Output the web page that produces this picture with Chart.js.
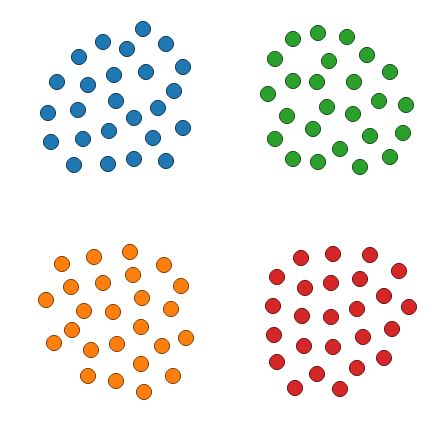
<!DOCTYPE html>
<html><head><meta charset="utf-8">
<script src="https://cdn.jsdelivr.net/npm/chart.js@4.4.1/dist/chart.umd.min.js"></script>
<style>html,body{margin:0;padding:0;background:#fff;}#wrap{width:448px;height:432px;}</style>
</head><body><div id="wrap"><canvas id="c" width="448" height="432"></canvas></div>
<script>
// Values in a 0..448 (x) by 0..432 (y, upward) data space
const blueX = [143,103,127,166,79,183,114,146,57,88,174,116,48,78,158,134,183,109,51,83,153,74,108,134,166];
const blueY = [29,42,49,44,57,67,75,72,82,85,91,101,113,110,108,118,128,131,142,139,138,165,164,159,161];
const greenX = [293,318,347,275,329,367,390,293,317,354,268,379,406,327,287,353,313,370,403,275,340,293,318,360,390];
const greenY = [39,33,37,59,61,55,72,81,82,82,94,101,105,107,116,114,129,136,133,139,149,159,162,167,157];
const orangeX = [130,94,62,164,133,103,71,181,46,142,84,113,171,141,72,54,117,162,186,91,141,88,116,173,144];
const orangeY = [252,257,264,265,275,283,287,286,300,298,311,312,309,327,330,343,344,346,338,350,364,376,381,376,392];
const redX = [301,333,370,277,399,305,331,360,384,273,409,302,331,357,274,392,304,333,363,277,317,357,384,295,340];
const redY = [258,254,255,277,271,288,283,279,296,306,307,316,317,309,335,329,346,347,337,362,374,368,358,388,389];

const H = 432;
function pts(xs, ys){ return xs.map((x,i)=>({x:x, y:H-ys[i]})); }
function ds(xs, ys, fill, edge){
  return {data: pts(xs, ys), backgroundColor: fill, borderColor: edge, borderWidth: 1,
    pointRadius: 7.6, pointHoverRadius: 7.6, clip: false};
}
new Chart(document.getElementById('c'), {
  type: 'scatter',
  data: {datasets: [
    ds(blueX, blueY, '#1f77b4', '#0e3a5a'),
    ds(greenX, greenY, '#2ca02c', '#165016'),
    ds(orangeX, orangeY, '#ff7f0e', '#7f4007'),
    ds(redX, redY, '#d62728', '#6b1314')
  ]},
  options: {
    responsive: false, animation: false,
    layout: {padding: 0, autoPadding: false},
    plugins: {legend: {display: false}, tooltip: {enabled: false}},
    scales: {
      x: {type: 'linear', min: 0, max: 448, display: false},
      y: {type: 'linear', min: 0, max: 432, display: false}
    }
  }
});
</script></body></html>
